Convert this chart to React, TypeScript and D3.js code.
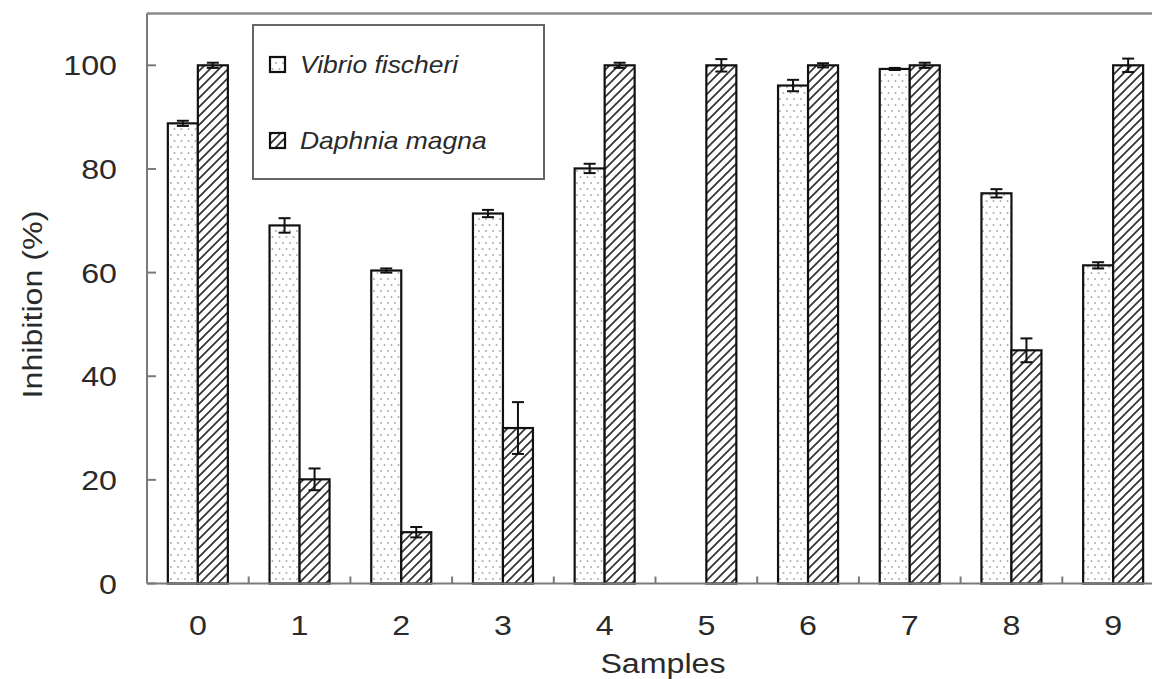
import { useEffect, useRef } from 'react';
import * as d3 from 'd3';

const samples = ['0', '1', '2', '3', '4', '5', '6', '7', '8', '9'];
const seriesNames = ['Vibrio fischeri', 'Daphnia magna'];
const vibrioValues = [88.8, 69.1, 60.4, 71.4, 80.1, 0, 96.1, 99.3, 75.3, 61.4];
const vibrioErrors = [0.5, 1.4, 0.4, 0.7, 0.9, 0, 1.1, 0.2, 0.8, 0.6];
const daphniaValues = [100, 20.1, 9.9, 30, 100, 100, 100, 100, 45, 100];
const daphniaErrors = [0.5, 2.1, 1, 5, 0.5, 1.2, 0.4, 0.5, 2.3, 1.3];
const yTicks = [0, 20, 40, 60, 80, 100];

const W = 1152;
const H = 679;
const FONT = '"Liberation Sans", Arial, sans-serif';
const SX = 1.15; // the picture's text looks a bit wide

function App() {
  const svgRef = useRef<SVGSVGElement | null>(null);

  useEffect(() => {
    if (!svgRef.current) return;
    const svg = d3.select(svgRef.current);
    svg.selectAll('*').remove();

    const left = 147;
    const step = 101.7;
    const x = d3.scaleBand<string>()
      .domain(samples)
      .range([left, left + step * samples.length])
      .paddingInner(0.41)
      .paddingOuter(0.205);
    const xs = d3.scaleBand<string>().domain(seriesNames).range([0, x.bandwidth()]);
    const y = d3.scaleLinear().domain([0, 110]).range([583.5, 13.5]);

    const defs = svg.append('defs');
    const dots = defs.append('pattern')
      .attr('id', 'dots')
      .attr('patternUnits', 'userSpaceOnUse')
      .attr('width', 14)
      .attr('height', 12);
    dots.append('rect').attr('width', 14).attr('height', 12).attr('fill', '#fff');
    [[3, 3], [10, 3], [6.5, 9], [13.5, 9], [-0.5, 9]].forEach(([cx, cy]) => {
      dots.append('rect')
        .attr('x', cx - 0.8).attr('y', cy - 0.8)
        .attr('width', 1.6).attr('height', 1.6)
        .attr('fill', '#a0a0a0');
    });

    const hatch = defs.append('pattern')
      .attr('id', 'hatch')
      .attr('patternUnits', 'userSpaceOnUse')
      .attr('width', 9)
      .attr('height', 9);
    hatch.append('rect').attr('width', 9).attr('height', 9).attr('fill', '#fff');
    hatch.append('path')
      .attr('d', 'M-2,2 L2,-2 M0,9 L9,0 M7,11 L11,7')
      .attr('stroke', '#333')
      .attr('stroke-width', 1.7);

    // frame: top border line
    svg.append('line')
      .attr('x1', left).attr('x2', W)
      .attr('y1', y(110)).attr('y2', y(110))
      .attr('stroke', '#8a8a8a').attr('stroke-width', 2.5);

    const series = [
      { name: seriesNames[0], values: vibrioValues, errors: vibrioErrors, fill: 'url(#dots)' },
      { name: seriesNames[1], values: daphniaValues, errors: daphniaErrors, fill: 'url(#hatch)' },
    ];

    series.forEach((s) => {
      samples.forEach((cat, i) => {
        const v = s.values[i];
        if (!v) return;
        const bx = x(cat)! + xs(s.name)!;
        svg.append('rect')
          .attr('x', bx)
          .attr('y', y(v))
          .attr('width', xs.bandwidth())
          .attr('height', y(0) - y(v))
          .attr('fill', s.fill)
          .attr('stroke', '#111')
          .attr('stroke-width', 2.2);
      });
    });

    // error bars on top of the bars
    series.forEach((s) => {
      samples.forEach((cat, i) => {
        const v = s.values[i];
        const e = s.errors[i];
        if (!v || !e) return;
        const cx = x(cat)! + xs(s.name)! + xs.bandwidth() / 2;
        const g = svg.append('g').attr('stroke', '#111').attr('stroke-width', 2);
        g.append('line').attr('x1', cx).attr('x2', cx).attr('y1', y(v - e)).attr('y2', y(v + e));
        [v - e, v + e].forEach((t) => {
          g.append('line').attr('x1', cx - 6).attr('x2', cx + 6).attr('y1', y(t)).attr('y2', y(t));
        });
      });
    });

    // axes
    const axisColor = '#7a7a7a';
    svg.append('line')
      .attr('x1', left).attr('x2', W)
      .attr('y1', y(0)).attr('y2', y(0))
      .attr('stroke', axisColor).attr('stroke-width', 2);
    svg.append('line')
      .attr('x1', left).attr('x2', left)
      .attr('y1', y(0)).attr('y2', y(110))
      .attr('stroke', axisColor).attr('stroke-width', 2);

    yTicks.forEach((t) => {
      svg.append('line')
        .attr('x1', left).attr('x2', left + 9)
        .attr('y1', y(t)).attr('y2', y(t))
        .attr('stroke', axisColor).attr('stroke-width', 2);
      svg.append('text')
        .attr('transform', `translate(117,${y(t) + 10}) scale(${SX},1)`)
        .attr('text-anchor', 'end')
        .attr('font-family', FONT)
        .attr('font-size', 28)
        .attr('fill', '#2a2a2a')
        .text(t);
    });

    // tick marks between the samples
    samples.slice(1).forEach((cat) => {
      const tx = x(cat)! - x.step() * x.paddingInner() / 2;
      svg.append('line')
        .attr('x1', tx).attr('x2', tx)
        .attr('y1', y(0)).attr('y2', y(0) - 7)
        .attr('stroke', axisColor).attr('stroke-width', 2);
    });

    samples.forEach((cat) => {
      svg.append('text')
        .attr('transform', `translate(${x(cat)! + x.bandwidth() / 2},635) scale(${SX},1)`)
        .attr('text-anchor', 'middle')
        .attr('font-family', FONT)
        .attr('font-size', 28)
        .attr('fill', '#2a2a2a')
        .text(cat);
    });

    svg.append('text')
      .attr('transform', `translate(663,673) scale(${SX},1)`)
      .attr('text-anchor', 'middle')
      .attr('font-family', FONT)
      .attr('font-size', 28)
      .attr('fill', '#2a2a2a')
      .text('Samples');

    svg.append('text')
      .attr('transform', `translate(42,${(y(0) + y(110)) / 2 + 6}) rotate(-90) scale(${SX},1)`)
      .attr('text-anchor', 'middle')
      .attr('font-family', FONT)
      .attr('font-size', 28)
      .attr('fill', '#2a2a2a')
      .text('Inhibition (%)');

    // legend
    const lg = svg.append('g');
    lg.append('rect')
      .attr('x', 253).attr('y', 25)
      .attr('width', 291).attr('height', 154)
      .attr('fill', '#fff')
      .attr('stroke', '#666').attr('stroke-width', 2);
    series.forEach((s, i) => {
      const ly = 57 + i * 76;
      lg.append('rect')
        .attr('x', 270).attr('y', ly)
        .attr('width', 15).attr('height', 15)
        .attr('fill', s.fill)
        .attr('stroke', '#111').attr('stroke-width', 2.2);
      lg.append('text')
        .attr('transform', `translate(300,${ly + 16}) scale(${SX},1)`)
        .attr('font-family', FONT)
        .attr('font-style', 'italic')
        .attr('font-size', 23)
        .attr('fill', '#2a2a2a')
        .text(s.name);
    });
  }, []);

  return (
    <svg
      ref={svgRef}
      width={W}
      height={H}
      style={{ position: 'absolute', left: 0, top: 0, background: '#fff' }}
    />
  );
}

export default App;
